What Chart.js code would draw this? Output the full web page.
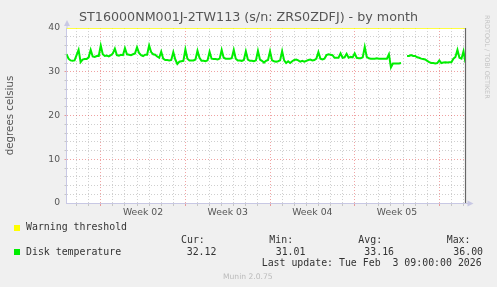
<!DOCTYPE html>
<html>
<head>
<meta charset="utf-8">
<script src="https://cdn.jsdelivr.net/npm/chart.js@4"></script>
<style>
  body { margin: 0; background: #f0f0f0; }
  #wrap { position: relative; width: 497px; height: 287px; overflow: hidden; }
  #grafico { position: absolute; left: 0; top: 0; }
  .mono { position: absolute; font-family: 'DejaVu Sans Mono', monospace; font-size: 9.9px; line-height: 12px; color: #333; white-space: pre; }
  .box { position: absolute; width: 6px; height: 6px; }
</style>
</head>
<body>
<div id="wrap">
  <canvas id="grafico" width="497" height="287"></canvas>
</div>
<script>
// datos (muestras cada 4 horas, hora 0 = lunes de la semana 02)
const sampleStartHour = -68
const sampleStepHours = 4
const temps = [
  34.0, 33.0, 32.6, 32.5, 32.6, 33.8, 35.0, 32.2, 32.8, 32.9,
  32.9, 33.3, 35.0, 33.5, 33.4, 33.6, 33.6, 36.0, 34.0, 33.6,
  33.7, 33.5, 33.8, 34.2, 35.3, 33.8, 33.7, 33.9, 33.8, 35.4,
  34.0, 33.9, 33.8, 34.0, 34.2, 35.6, 34.3, 33.8, 33.6, 33.9,
  33.9, 36.0, 34.5, 34.0, 33.9, 33.5, 33.2, 34.6, 33.0, 32.7,
  32.7, 32.6, 32.7, 34.5, 32.8, 31.8, 32.3, 32.4, 32.5, 35.1,
  33.0, 32.6, 32.6, 32.6, 32.8, 34.8, 33.2, 32.5, 32.5, 32.4,
  32.6, 34.6, 33.0, 32.9, 32.9, 32.8, 33.0, 35.0, 33.2, 33.0,
  33.0, 33.0, 33.1, 35.0, 33.0, 32.6, 32.6, 32.5, 32.7, 34.7,
  32.8, 32.5, 32.5, 32.4, 32.6, 34.8, 32.8, 32.5, 32.1, 32.5,
  32.7, 34.7, 32.6, 32.4, 32.3, 32.4, 32.6, 34.7, 32.6, 32.0,
  32.4, 32.0, 32.4, 32.7, 32.8, 32.6, 32.3, 32.5, 32.3, 32.5,
  32.7, 32.8, 32.6, 32.7, 33.0, 34.5, 33.0, 32.8, 33.0, 33.8,
  34.0, 33.9, 33.8, 33.2, 33.2, 33.2, 34.2, 33.2, 33.3, 34.1,
  33.2, 33.4, 33.3, 34.2, 33.2, 33.1, 33.1, 33.3, 35.7, 33.4,
  33.1, 33.0, 33.0, 33.0, 33.1, 33.0, 33.0, 33.0, 33.0, 33.0,
  34.0, 31.0, 31.9, 31.9, 31.9, 31.9, 32.0, null, null, 33.6,
  33.6, 33.8, 33.6, 33.6, 33.3, 33.2, 33.0, 32.9, 32.8, 32.5,
  32.2, 32.0, 32.0, 31.9, 32.0, 32.6, 32.0, 32.1, 32.2, 32.1,
  32.2, 32.2, 33.0, 33.4, 35.0, 33.2, 33.0, 34.7, 32.1
]
const xMinHour = -68
const xMaxHour = 724
const weekStartHours = [0, 168, 336, 504, 672]
const weekLabelHours = [84, 252, 420, 588]
const weekLabels = ['Week 02', 'Week 03', 'Week 04', 'Week 05']
const warningLevel = 40
const yMax = 40

const chartTitle = 'ST16000NM001J-2TW113 (s/n: ZRS0ZDFJ) - by month'
const yTitle = 'degrees celsius'
const seriesNames = ['Warning threshold', 'Disk temperature']
const statNames = ['Cur:', 'Min:', 'Avg:', 'Max:']
const statValues = ['32.12', '31.01', '33.16', '36.00']
const lastUpdate = 'Last update: Tue Feb  3 09:00:00 2026'

const colorWarning = '#ffff00'
const colorTemp = '#00ee00'
const gridMinor = 'rgba(128, 128, 128, 0.38)'
const gridMajor = 'rgba(222, 48, 48, 0.45)'
const axisColor = '#c8c8e4'

const puntos = temps.map((t, i) => ({ x: sampleStartHour + i * sampleStepHours, y: t }))

const xTicks = []
for (let h = -48; h <= 720; h += 24) xTicks.push(h)
weekLabelHours.forEach(h => xTicks.push(h))
xTicks.sort((a, b) => a - b)

function colorGridX(v) {
    if (weekLabelHours.includes(v)) return 'rgba(0,0,0,0)'
    if (weekStartHours.includes(v)) return gridMajor
    return gridMinor
}

function colorGridY(v) {
    if (v === 0 || v === yMax) return 'rgba(0,0,0,0)'
    if (v % 10 === 0) return gridMajor
    return gridMinor
}

const muninPlugin = {
    id: 'munin',
    beforeDraw(chart) {
        const { ctx, chartArea: a } = chart
        ctx.save()
        ctx.fillStyle = '#ffffff'
        ctx.fillRect(a.left, a.top, a.right - a.left, a.bottom - a.top)
        ctx.restore()
    },
    afterDraw(chart) {
        const { ctx, chartArea: a } = chart
        ctx.save()
        // linea de la derecha
        ctx.strokeStyle = '#666'
        ctx.lineWidth = 1.2
        ctx.beginPath()
        ctx.moveTo(a.right, a.top)
        ctx.lineTo(a.right, a.bottom)
        ctx.stroke()
        // flechas de los ejes
        ctx.strokeStyle = axisColor
        ctx.fillStyle = axisColor
        ctx.lineWidth = 1
        ctx.beginPath()
        ctx.moveTo(a.left + 0.5, a.top)
        ctx.lineTo(a.left + 0.5, a.top - 3)
        ctx.moveTo(a.right, a.bottom + 0.5)
        ctx.lineTo(a.right + 4, a.bottom + 0.5)
        ctx.stroke()
        ctx.beginPath()
        ctx.moveTo(a.left + 0.5, a.top - 8)
        ctx.lineTo(a.left - 2.5, a.top - 2)
        ctx.lineTo(a.left + 3.5, a.top - 2)
        ctx.closePath()
        ctx.fill()
        ctx.beginPath()
        ctx.moveTo(a.right + 8, a.bottom + 0.5)
        ctx.lineTo(a.right + 2, a.bottom - 2.5)
        ctx.lineTo(a.right + 2, a.bottom + 3.5)
        ctx.closePath()
        ctx.fill()
        ctx.restore()
    }
}

const config = {
    type: 'line',
    data: {
        datasets: [
            {
                label: seriesNames[1],
                data: puntos,
                borderColor: colorTemp,
                borderWidth: 2,
                pointRadius: 0,
                spanGaps: false,
                tension: 0
            },
            {
                label: seriesNames[0],
                data: [{ x: xMinHour, y: warningLevel }, { x: xMaxHour, y: warningLevel }],
                borderColor: colorWarning,
                borderWidth: 1.5,
                pointRadius: 0
            }
        ]
    },
    options: {
        responsive: false,
        animation: false,
        devicePixelRatio: 1,
        layout: { padding: { left: 0, right: 0, top: 0, bottom: 64 } },
        plugins: {
            legend: { display: false },
            tooltip: { enabled: false },
            title: {
                display: true,
                text: chartTitle,
                color: '#555',
                font: { family: 'DejaVu Sans', size: 12.7, weight: 'normal', lineHeight: 1.2 },
                padding: { top: 10.5, bottom: 2.3 }
            }
        },
        scales: {
            x: {
                type: 'linear',
                min: xMinHour,
                max: xMaxHour,
                afterBuildTicks: s => { s.ticks = xTicks.map(v => ({ value: v })) },
                afterFit: s => { s.height = 20 },
                ticks: {
                    autoSkip: false,
                    maxRotation: 0,
                    minRotation: 0,
                    padding: 1,
                    color: '#555',
                    font: { family: 'DejaVu Sans', size: 9.3 },
                    callback: v => {
                        const idx = weekLabelHours.indexOf(v)
                        return idx >= 0 ? weekLabels[idx] : ''
                    }
                },
                grid: {
                    color: c => colorGridX(c.tick ? c.tick.value : null),
                    tickColor: c => colorGridX(c.tick ? c.tick.value : null),
                    tickLength: 3,
                    lineWidth: 1
                },
                border: { color: axisColor, width: 1, dash: [1, 2] }
            },
            y: {
                min: 0,
                max: yMax,
                afterFit: s => { s.width = 66.5 },
                ticks: {
                    stepSize: 2,
                    autoSkip: false,
                    padding: 4.5,
                    color: '#555',
                    font: { family: 'DejaVu Sans', size: 9.2 },
                    callback: v => (v % 10 === 0 ? v : '')
                },
                grid: {
                    color: c => colorGridY(c.tick ? c.tick.value : null),
                    tickColor: c => colorGridY(c.tick ? c.tick.value : null),
                    tickLength: 2,
                    lineWidth: 1
                },
                border: { color: axisColor, width: 1, dash: [1, 2] },
                title: {
                    display: true,
                    text: yTitle,
                    color: '#555',
                    font: { family: 'DejaVu Sans', size: 10.3 },
                    padding: { top: 4, bottom: 0 }
                }
            },
            // eje vacio a la derecha, solo reserva el margen
            margen: {
                position: 'right',
                min: 0,
                max: yMax,
                afterFit: s => { s.width = 31.5 },
                ticks: { display: false },
                grid: { drawOnChartArea: false, drawTicks: false },
                border: { display: false }
            }
        }
    },
    plugins: [muninPlugin]
}

const myChart = document.getElementById('grafico')
new Chart(myChart, config)

// leyenda y textos de pie, como en munin
const $wrap = document.getElementById('wrap')

function addText(texto, left, top, clase, extra) {
    const el = document.createElement('div')
    el.className = clase
    el.textContent = texto
    el.style.left = left + 'px'
    el.style.top = top + 'px'
    if (extra) Object.assign(el.style, extra)
    $wrap.appendChild(el)
}

function addBox(color, left, top) {
    const el = document.createElement('div')
    el.className = 'box'
    el.style.left = left + 'px'
    el.style.top = top + 'px'
    el.style.background = color
    $wrap.appendChild(el)
}

addBox(colorWarning, 14, 225)
addText(seriesNames[0], 26, 221, 'mono')

const statLeft = [181, 269.3, 358.3, 446.7]
const valueLeft = [186.7, 275.7, 364.3, 453.3]
statNames.forEach((n, i) => addText(n, statLeft[i], 234, 'mono'))

addBox(colorTemp, 14, 249)
addText(seriesNames[1], 26, 245.7, 'mono')
statValues.forEach((v, i) => addText(v, valueLeft[i], 245.7, 'mono'))

addText(lastUpdate, 261.7, 257.3, 'mono')

addText('Munin 2.0.75', 223, 271.5, 'mono', {
    fontFamily: "'DejaVu Sans', sans-serif", fontSize: '7.6px', lineHeight: '9px', color: '#bbb'
})

addText('RRDTOOL / TOBI OETIKER', 483, 15, 'mono', {
    fontFamily: "'DejaVu Sans', sans-serif", fontSize: '6.5px', lineHeight: '8px', color: '#c4c4c4',
    writingMode: 'vertical-rl'
})
</script>
</body>
</html>
